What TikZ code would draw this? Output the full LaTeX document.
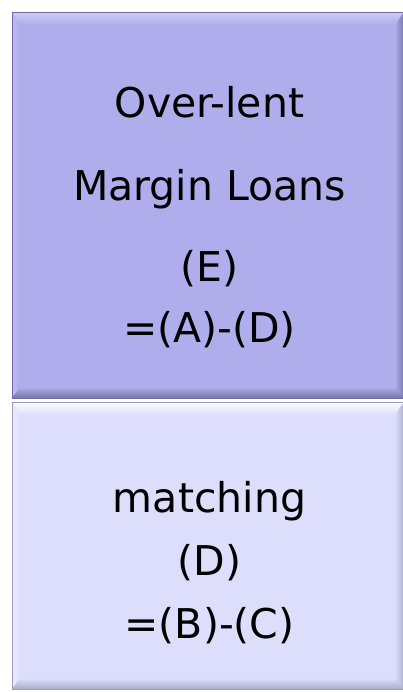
\documentclass[tikz,border=0pt]{standalone}
\usepackage{fontspec}
\setmainfont{DejaVu Sans}
\usetikzlibrary{calc}
\definecolor{topfill}{RGB}{175,173,236}
\definecolor{toplight}{RGB}{206,205,246}
\definecolor{topleft}{RGB}{190,189,240}
\definecolor{topdark}{RGB}{118,117,168}
\definecolor{topedge}{RGB}{110,109,155}
\definecolor{botfill}{RGB}{221,221,252}
\definecolor{botlight}{RGB}{252,252,255}
\definecolor{botleft}{RGB}{236,236,254}
\definecolor{botdark}{RGB}{172,172,204}
\definecolor{botedge}{RGB}{155,155,190}
\newcommand\mybevel[5]{%
  \shade[top color=#2, bottom color=#3] (#1.north west) -- (#1.north east) -- ($(#1.north east)+(-9,-13)$) -- ($(#1.north west)+(8,-13)$) -- cycle;
  \shade[left color=#5, right color=#3] (#1.north west) -- ($(#1.north west)+(8,-13)$) -- ($(#1.south west)+(8,11)$) -- (#1.south west) -- cycle;
  \shade[top color=#3, bottom color=#4] (#1.south west) -- ($(#1.south west)+(8,11)$) -- ($(#1.south east)+(-9,11)$) -- (#1.south east) -- cycle;
  \shade[left color=#3, right color=#4] (#1.south east) -- ($(#1.south east)+(-9,11)$) -- ($(#1.north east)+(-9,-13)$) -- (#1.north east) -- cycle;
}
\begin{document}
\begin{tikzpicture}[x=1pt,y=1pt,
  boxbase/.style={rectangle, inner sep=0pt, outer sep=0pt},
  lbl/.style={anchor=base, inner sep=0pt, font=\fontsize{41}{49}\selectfont, text=black}]
\useasboundingbox (0,0) rectangle (403,692);
\fill[white] (0,0) rectangle (403,692);
% top box
\node[boxbase, fill=topfill, minimum width=392pt, minimum height=386pt] (boxE) at (208,487) {};
\mybevel{boxE}{toplight}{topfill}{topdark}{topleft}
\draw[topedge, line width=0.8pt] (boxE.south west) rectangle (boxE.north east);
% bottom box
\node[boxbase, fill=botfill, minimum width=392pt, minimum height=287pt] (boxD) at (208,146.5) {};
\mybevel{boxD}{botlight}{botfill}{botdark}{botleft}
\draw[botedge, line width=0.8pt] (boxD.south west) rectangle (boxD.north east);
% texts
\node[lbl] (t1) at (209.5,574) {Over-lent};
\node[lbl] (t2) at (209.5,491) {Margin Loans};
\node[lbl] (t3) at (209.5,410) {(E)};
\node[lbl] (t4) at (209.5,349) {=(A)-(D)};
\node[lbl] (t5) at (209.5,179) {matching};
\node[lbl] (t6) at (209.5,116) {(D)};
\node[lbl] (t7) at (209.5,53) {=(B)-(C)};
\end{tikzpicture}
\end{document}
